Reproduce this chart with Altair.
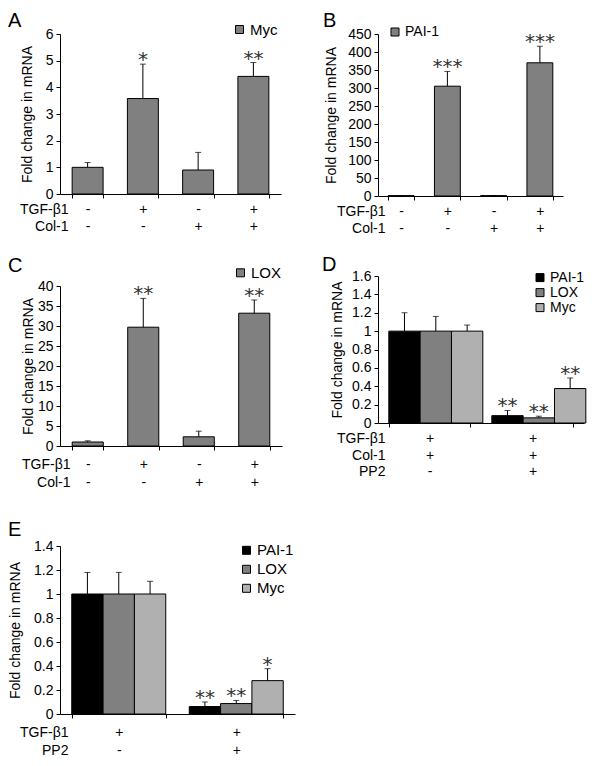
import altair as alt
import pandas as pd

FONT = "Liberation Sans"
GRAY = "#808080"
BLACK = "#000000"
LIGHT = "#b0b0b0"
YTITLE = "Fold change in mRNA"

# ---------------- data ----------------
# Panel A (Myc)
a_tgf = ["-", "+", "-", "+"]
a_col = ["-", "-", "+", "+"]
a_val = [1.0, 3.58, 0.90, 4.41]
a_up = [1.18, 4.87, 1.56, 4.93]
a_sig = ["", "*", "", "**"]

# Panel B (PAI-1)
b_tgf = ["-", "+", "-", "+"]
b_col = ["-", "-", "+", "+"]
b_val = [1.0, 305.0, 1.0, 370.0]
b_up = [1.0, 346.0, 1.0, 416.0]
b_sig = ["", "***", "", "***"]

# Panel C (LOX)
c_tgf = ["-", "+", "-", "+"]
c_col = ["-", "-", "+", "+"]
c_val = [1.0, 29.7, 2.3, 33.2]
c_up = [1.3, 36.9, 3.7, 36.5]
c_sig = ["", "**", "", "**"]

# Panel D (TGF-b1 + Col-1 +/- PP2)
d_genes = ["PAI-1", "LOX", "Myc"]
d_tgf = ["+", "+"]
d_col = ["+", "+"]
d_pp2 = ["-", "+"]
d_pai = [1.0, 0.08]
d_pai_up = [1.20, 0.137]
d_lox = [1.0, 0.056]
d_lox_up = [1.16, 0.074]
d_myc = [1.0, 0.375]
d_myc_up = [1.066, 0.49]
d_sig = [["", "**"], ["", "**"], ["", "**"]]

# Panel E (TGF-b1 +/- PP2)
e_genes = ["PAI-1", "LOX", "Myc"]
e_tgf = ["+", "+"]
e_pp2 = ["-", "+"]
e_pai = [1.0, 0.062]
e_pai_up = [1.179, 0.10]
e_lox = [1.0, 0.087]
e_lox_up = [1.18, 0.113]
e_myc = [1.0, 0.278]
e_myc_up = [1.106, 0.378]
e_sig = [["", "**"], ["", "**"], ["", "*"]]


def cond_keys(*rows):
    return [" ".join(parts) for parts in zip(*rows)]


def x_axis(row_names, title_x, base_y, lh):
    return alt.Axis(
        labelAngle=0,
        labelExpr="split(datum.label, ' ')",
        labelLineHeight=lh,
        labelBaseline="alphabetic",
        labelPadding=base_y - 4,
        labelFontSize=14,
        tickBand="extent",
        tickSize=4,
        title=row_names,
        titleX=title_x,
        titleY=base_y,
        titleAlign="right",
        titleBaseline="alphabetic",
        titleLineHeight=lh,
        titleFontSize=14,
        titleFontWeight="normal",
    )


def y_axis(values, tpad):
    return alt.Axis(
        values=values,
        format="~r",
        title=YTITLE,
        titleFontSize=14,
        titleFontWeight="normal",
        labelFontSize=14,
        tickSize=4,
        labelPadding=3,
        titlePadding=tpad,
    )


def legend(leg_x, leg_y, font_size, row_pad):
    return alt.Legend(orient="none", legendX=leg_x, legendY=leg_y,
                      title=None, symbolType="square",
                      symbolSize=64, symbolStrokeColor=BLACK,
                      symbolStrokeWidth=1, labelFontSize=font_size,
                      labelFont=FONT, labelOffset=3, padding=0,
                      rowPadding=row_pad)


def panel(letter, letter_xy, rows, row_names, genes, series, ups, sig, colors,
          ymax, yvals, w, h, pad, title_x, base_y, lh, leg, tpad):
    cats = cond_keys(*rows)
    recs = []
    for ci, c in enumerate(cats):
        for gi, g in enumerate(genes):
            recs.append({"cond": c, "gene": g, "value": series[gi][ci],
                         "upper": ups[gi][ci], "sig": sig[gi][ci]})
    df = pd.DataFrame(recs)
    base = alt.Chart(df)
    x = alt.X("cond:N", sort=cats,
              scale=alt.Scale(paddingInner=pad, paddingOuter=pad / 2),
              axis=x_axis(row_names, title_x, base_y, lh))
    enc = {"x": x}
    if len(genes) > 1:
        enc["xOffset"] = alt.XOffset("gene:N", sort=genes,
                                     scale=alt.Scale(paddingInner=0, paddingOuter=0))
    yax = y_axis(yvals, tpad)
    ysc = alt.Scale(domain=[0, ymax], nice=False)
    bars = base.mark_bar(stroke=BLACK, strokeWidth=1).encode(
        y=alt.Y("value:Q", scale=ysc, axis=yax),
        color=alt.Color("gene:N", sort=genes,
                        scale=alt.Scale(domain=genes, range=colors),
                        legend=leg),
        **enc,
    )
    rule = base.mark_rule(color=BLACK, strokeWidth=1).encode(
        y=alt.Y("value:Q", scale=ysc, axis=yax), y2="upper:Q", **enc)
    cap = base.mark_tick(color=BLACK, size=6, thickness=1).encode(
        y=alt.Y("upper:Q", scale=ysc, axis=yax), **enc)
    stars = base.mark_text(font="DejaVu Sans", fontSize=20, fill="#333333",
                           baseline="alphabetic", dy=2).encode(
        y=alt.Y("upper:Q", scale=ysc, axis=yax), text="sig:N", **enc)
    tag = alt.Chart(pd.DataFrame({"letter": [letter]})).mark_text(
        font=FONT, fontSize=20, align="left", baseline="alphabetic", color=BLACK
    ).encode(x=alt.value(letter_xy[0]), y=alt.value(letter_xy[1]), text="letter:N")
    return alt.layer(bars, rule, cap, stars, tag).properties(width=w, height=h)


pA = panel("A", (-52, -7), [a_tgf, a_col], ["TGF-β1", "Col-1"], ["Myc"], [a_val], [a_up],
           [a_sig], [GRAY], 6, [0, 1, 2, 3, 4, 5, 6], 221, 160, 0.44, 8, 19, 17.5,
           legend(172, -12, 15, 2), 11)
pB = panel("B", (-55, -7), [b_tgf, b_col], ["TGF-β1", "Col-1"], ["PAI-1"], [b_val], [b_up],
           [b_sig], [GRAY], 450, list(range(0, 451, 50)), 185, 162, 0.44, 7, 19, 17.5,
           legend(10, -9, 14, 2), 9)
pC = panel("C", (-52, -13.7), [c_tgf, c_col], ["TGF-β1", "Col-1"], ["LOX"], [c_val], [c_up],
           [c_sig], [GRAY], 40, list(range(0, 41, 5)), 222, 160, 0.44, 10, 22.6, 18.4,
           legend(173, -20.7, 15, 2), 2)
pD = panel("D", (-56, -5), [d_tgf, d_col, d_pp2], ["TGF-β1", "Col-1", "PP2"], d_genes,
           [d_pai, d_lox, d_myc], [d_pai_up, d_lox_up, d_myc_up], d_sig,
           [BLACK, GRAY, LIGHT], 1.6, [0, 0.2, 0.4, 0.6, 0.8, 1, 1.2, 1.4, 1.6],
           206, 147, 0.21, 7, 19.7, 16.5, legend(155, -5.4, 14, 1), 7.5)
pE = panel("E", (-52, -9.8), [e_tgf, e_pp2], ["TGF-β1", "PP2"], e_genes,
           [e_pai, e_lox, e_myc], [e_pai_up, e_lox_up, e_myc_up], e_sig,
           [BLACK, GRAY, LIGHT], 1.4, [0, 0.2, 0.4, 0.6, 0.8, 1, 1.2, 1.4],
           235, 168, 0.2, 8, 22.5, 17.5, legend(179, -3.2, 15, 3), 11)


def indep(c):
    return c.resolve_scale(color="independent").resolve_legend(color="independent")


left = indep(alt.vconcat(indep(alt.vconcat(pA, pC, spacing=22)), pE, spacing=30))
right = indep(alt.vconcat(pB, pD, spacing=19))
chart = indep(alt.hconcat(left, right, spacing=27)).properties(
    padding={"left": 0, "top": 3, "right": 0, "bottom": 0}
).configure_view(
    stroke=None
).configure_axis(
    grid=False, domainColor=BLACK, tickColor=BLACK, labelColor=BLACK, titleColor=BLACK,
    labelFont=FONT, titleFont=FONT,
)

chart.save("out.html", embed_options={"renderer": "svg", "actions": False})
